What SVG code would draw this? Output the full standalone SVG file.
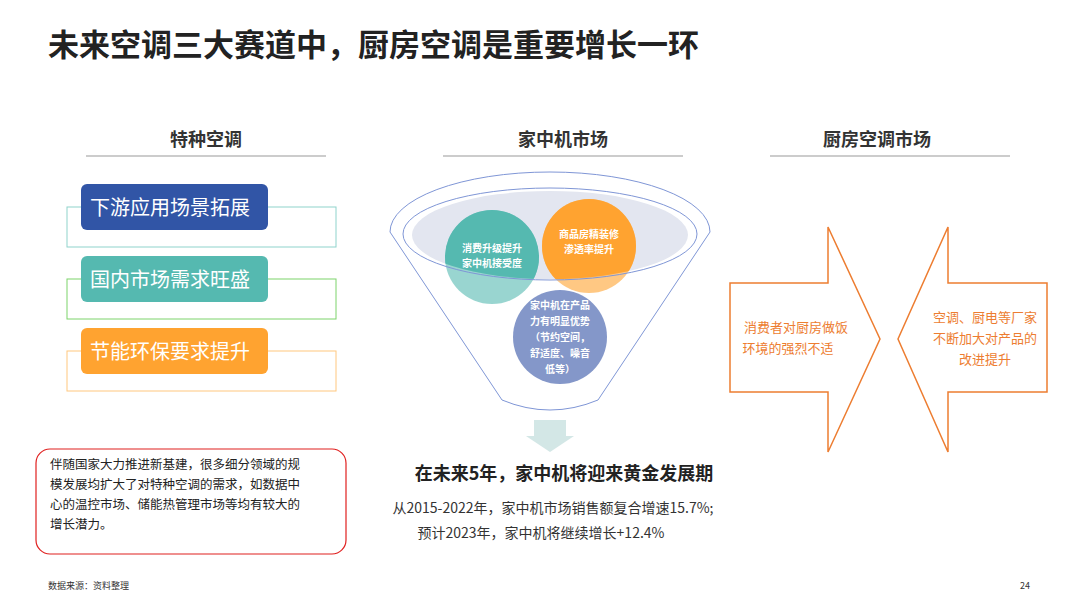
<svg xmlns="http://www.w3.org/2000/svg" width="1080" height="608" viewBox="0 0 1080 608">
<style>
text{font-family:"Noto Sans CJK SC","Liberation Sans",sans-serif}
.h{font-size:18px;font-weight:bold;fill:#333;text-anchor:middle}
.ul{stroke:#999;stroke-width:1}
.bt{font-size:20px;fill:#fff}
.ct{font-size:10px;font-weight:bold;fill:#fff;text-anchor:middle}
.ar{fill:#fff;stroke:#ed7d31;stroke-width:1.5}
.at{font-size:13px;fill:#ed7d31;text-anchor:middle}
</style>
<rect width="1080" height="608" fill="#fff"/>
<text x="48" y="56" font-size="31" font-weight="bold" fill="#222">未来空调三大赛道中，厨房空调是重要增长一环</text>
<g id="hdr1"><text class="h" x="206" y="146">特种空调</text><line class="ul" x1="86" y1="156" x2="326" y2="156"/></g>
<g id="hdr2"><text class="h" x="563" y="146">家中机市场</text><line class="ul" x1="443" y1="156" x2="683" y2="156"/></g>
<g id="hdr3"><text class="h" x="877" y="146">厨房空调市场</text><line class="ul" x1="770" y1="156" x2="1010" y2="156"/></g>
<g id="n1"><rect x="67" y="207" width="269" height="40" fill="none" stroke="#8fd3cc"/><rect x="81" y="184" width="187" height="46" rx="6" fill="#3155a6"/><text class="bt" x="90" y="215">下游应用场景拓展</text></g>
<g id="n2"><rect x="67" y="279" width="269" height="40" fill="none" stroke="#7dd36a"/><rect x="81" y="256" width="187" height="46" rx="6" fill="#55b9b0"/><text class="bt" x="90" y="287">国内市场需求旺盛</text></g>
<g id="n3"><rect x="67" y="351" width="269" height="40" fill="none" stroke="#ffc77f"/><rect x="81" y="328" width="187" height="46" rx="6" fill="#ffa330"/><text class="bt" x="90" y="359">节能环保要求提升</text></g>
<g id="note"><rect x="36" y="449" width="310" height="105" rx="14" fill="#fff" stroke="#e0201f" stroke-width="1.2"/>
<text font-size="12.5" fill="#222"><tspan x="50" y="469">伴随国家大力推进新基建，很多细分领域的规</tspan><tspan x="50" y="489">模发展均扩大了对特种空调的需求，如数据中</tspan><tspan x="50" y="509">心的温控市场、储能热管理市场等均有较大的</tspan><tspan x="50" y="529">增长潜力。</tspan></text></g>
<g id="funnel">
<path d="M390,232 A160,60 0 0 1 710,232 L598,400 Q550,420 502,400 Z" fill="#fff" stroke="#7f96d6" stroke-width="1"/>
<ellipse cx="550" cy="235" rx="138" ry="44" fill="#e3e6f0"/>
<circle cx="492" cy="257" r="47" fill="#55b9b0" opacity="0.6"/>
<circle cx="589" cy="246" r="47" fill="#ffa330" opacity="0.6"/>
<clipPath id="c"><ellipse cx="550" cy="235" rx="138" ry="44"/></clipPath>
<g clip-path="url(#c)"><circle cx="492" cy="257" r="47" fill="#55b9b0"/><circle cx="589" cy="246" r="47" fill="#ffa330"/></g>
<ellipse cx="550" cy="234" rx="147" ry="46" fill="none" stroke="#7f96d6"/>
<circle cx="560" cy="337" r="47" fill="#8497c9"/>
<text class="ct"><tspan x="492" y="252">消费升级提升</tspan><tspan x="492" y="267">家中机接受度</tspan></text>
<text class="ct"><tspan x="589" y="238">商品房精装修</tspan><tspan x="589" y="253">渗透率提升</tspan></text>
<text class="ct"><tspan x="560" y="309">家中机在产品</tspan><tspan x="560" y="325">力有明显优势</tspan><tspan x="560" y="341">（节约空间，</tspan><tspan x="560" y="357">舒适度、噪音</tspan><tspan x="560" y="373">低等）</tspan></text>
<path d="M534,420 H566 V436 H574 L550,452 L526,436 H534 Z" fill="#d3e7e6"/>
</g>
<text x="564" y="480" font-size="18" font-weight="bold" fill="#222" text-anchor="middle">在未来5年，家中机将迎来黄金发展期</text>
<text x="553" y="513" font-size="14" fill="#333" text-anchor="middle">从2015-2022年，家中机市场销售额复合增速15.7%;</text>
<text x="541" y="538" font-size="14" fill="#333" text-anchor="middle">预计2023年，家中机将继续增长+12.4%</text>
<g id="a1"><path class="ar" d="M730,283 H828 V227 L880,339 L828,452 V392 H730 Z"/><text class="at"><tspan x="796" y="332">消费者对厨房做饭</tspan><tspan x="788" y="353">环境的强烈不适</tspan></text></g>
<g id="a2"><path class="ar" d="M1047,283 H948 V227 L898,339 L948,452 V392 H1047 Z"/><text class="at"><tspan x="985" y="322">空调、厨电等厂家</tspan><tspan x="985" y="343">不断加大对产品的</tspan><tspan x="985" y="364">改进提升</tspan></text></g>
<text x="48" y="589" font-size="9" fill="#333">数据来源：资料整理</text>
<text x="1030" y="589" font-size="9" fill="#333" text-anchor="end">24</text>
</svg>
